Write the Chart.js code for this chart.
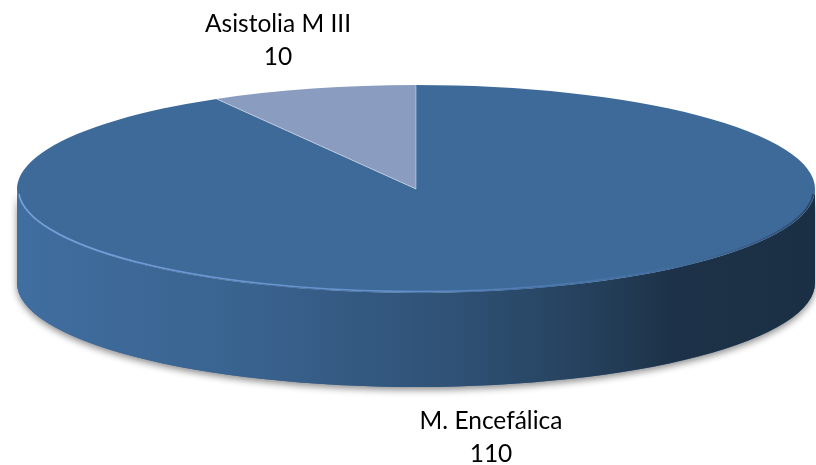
<!DOCTYPE html>
<html>
<head>
<meta charset="utf-8">
<script src="https://cdn.jsdelivr.net/npm/chart.js@4.4.0/dist/chart.umd.min.js"></script>
<style>
  html, body { margin: 0; padding: 0; background: #fff; }
  #wrap { width: 816px; height: 465px; }
</style>
</head>
<body>
<div id="wrap"><canvas id="chart" width="816" height="465"></canvas></div>
<script>
// values
const labels = ["M. Encefálica", "Asistolia M III"];
const values = [110, 10];
const colors = ["#3e6a9a", "#8a9dc0"];

const DEPTH = 94; // thickness of the 3d rim

function shade(hex, f) {
  const n = parseInt(hex.slice(1), 16);
  const c = [(n >> 16) & 255, (n >> 8) & 255, n & 255].map(v => Math.min(255, Math.round(v * f)));
  return `rgb(${c[0]},${c[1]},${c[2]})`;
}

// ellipse geometry taken from the pie the library laid out
function geom(chart) {
  const area = chart.chartArea;
  const arc = chart.getDatasetMeta(0).data[0];
  const r = arc.outerRadius;
  const rx = (area.right - area.left) / 2;
  return { cx: arc.x, cy: arc.y, r, rx, ry: r, sx: rx / r };
}

// parts of an arc that face the viewer (lower half of the ellipse)
function frontParts(s, e) {
  const parts = [];
  for (const off of [0, 2 * Math.PI]) {
    const a = Math.max(s, off), b = Math.min(e, off + Math.PI);
    if (b > a) parts.push([a - off, b - off]);
  }
  return parts;
}

function rimPath(ctx, g, a, b) {
  ctx.beginPath();
  ctx.ellipse(g.cx, g.cy, g.rx, g.ry, 0, a, b, false);
  ctx.lineTo(g.cx + g.rx * Math.cos(b), g.cy + DEPTH + g.ry * Math.sin(b));
  ctx.ellipse(g.cx, g.cy + DEPTH, g.rx, g.ry, 0, b, a, true);
  ctx.closePath();
}

const pie3d = {
  id: 'pie3d',
  beforeDatasetsDraw(chart) {
    const ctx = chart.ctx;
    const g = geom(chart);
    const arcs = chart.getDatasetMeta(0).data;

    // soft shadow under the rim
    ctx.save();
    ctx.shadowColor = 'rgba(0,0,0,0.45)';
    ctx.shadowBlur = 7;
    ctx.shadowOffsetY = 3;
    ctx.fillStyle = colors[0];
    rimPath(ctx, g, 0, Math.PI);
    ctx.fill();
    ctx.restore();

    // rim of each slice, lit from the left
    arcs.forEach((el, i) => {
      const p = el.getProps(['startAngle', 'endAngle'], true);
      const base = colors[i % colors.length];
      const grad = ctx.createLinearGradient(g.cx - g.rx, 0, g.cx + g.rx, 0);
      grad.addColorStop(0, shade(base, 1.04));
      grad.addColorStop(0.3, shade(base, 0.92));
      grad.addColorStop(0.55, shade(base, 0.76));
      grad.addColorStop(0.72, shade(base, 0.6));
      grad.addColorStop(0.82, shade(base, 0.47));
      grad.addColorStop(1, shade(base, 0.44));
      frontParts(p.startAngle, p.endAngle).forEach(([a, b]) => {
        ctx.fillStyle = grad;
        rimPath(ctx, g, a, b);
        ctx.fill();
      });
    });

    // squash the round pie into the top face
    ctx.save();
    ctx.translate(g.cx, 0);
    ctx.scale(g.sx, 1);
    ctx.translate(-g.cx, 0);
  },
  afterDatasetsDraw(chart) {
    const ctx = chart.ctx;
    ctx.restore();
    const g = geom(chart);
    const arcs = chart.getDatasetMeta(0).data;

    // light edge along the front of the top face
    const hl = ctx.createLinearGradient(g.cx - g.rx, 0, g.cx + g.rx, 0);
    hl.addColorStop(0, 'rgba(120,165,225,0.95)');
    hl.addColorStop(0.5, 'rgba(110,155,215,0.75)');
    hl.addColorStop(0.78, 'rgba(90,130,190,0.25)');
    hl.addColorStop(1, 'rgba(20,30,50,0.5)');
    ctx.save();
    ctx.strokeStyle = hl;
    ctx.lineWidth = 1.6;
    ctx.beginPath();
    ctx.ellipse(g.cx, g.cy, g.rx - 1.5, g.ry - 1.5, 0, 0.015 * Math.PI, 0.985 * Math.PI);
    ctx.stroke();

    // thin separators between slices
    ctx.strokeStyle = 'rgba(255,255,255,0.4)';
    ctx.lineWidth = 1;
    arcs.forEach(el => {
      const a = el.getProps(['startAngle'], true).startAngle;
      ctx.beginPath();
      ctx.moveTo(g.cx, g.cy);
      ctx.lineTo(g.cx + g.rx * Math.cos(a), g.cy + g.ry * Math.sin(a));
      ctx.stroke();
    });
    ctx.restore();
  },
  afterDraw(chart, args, opts) {
    const ctx = chart.ctx;
    ctx.save();
    ctx.font = '24.5px Lato';
    ctx.fillStyle = '#000';
    ctx.textAlign = 'center';
    ctx.textBaseline = 'alphabetic';
    labels.forEach((lab, i) => {
      const [x, y] = opts.anchors[i];
      ctx.fillText(lab, x, y);
      ctx.fillText(String(values[i]), x, y + opts.lineGap);
    });
    ctx.restore();
  }
};

new Chart(document.getElementById('chart'), {
  type: 'pie',
  data: {
    labels: labels,
    datasets: [{
      data: values,
      backgroundColor: colors,
      borderWidth: 0,
      clip: false
    }]
  },
  options: {
    responsive: false,
    animation: false,
    events: [],
    layout: { padding: { left: 17, right: 1, top: 85, bottom: 172 } },
    plugins: {
      legend: { display: false },
      tooltip: { enabled: false },
      pie3d: { anchors: [[491, 429], [278, 32]], lineGap: 33 }
    }
  },
  plugins: [pie3d]
});
</script>
</body>
</html>
